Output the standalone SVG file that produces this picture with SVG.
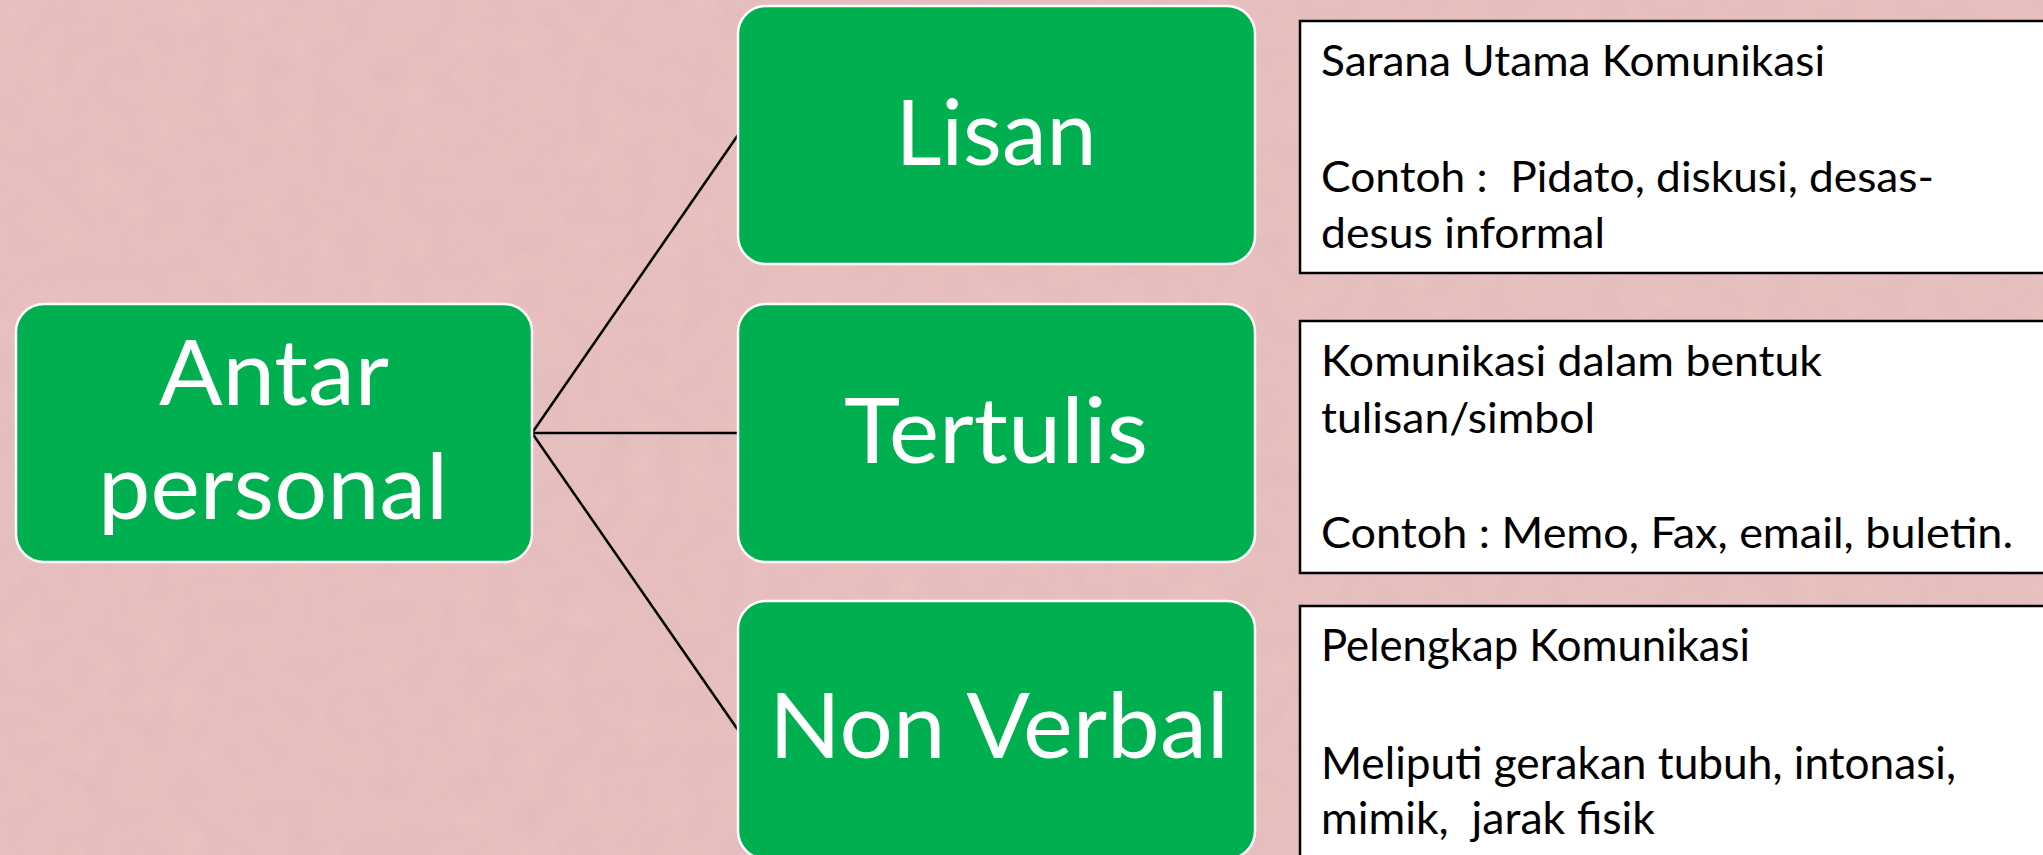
<svg xmlns="http://www.w3.org/2000/svg" width="2043" height="855" viewBox="0 0 2043 855">
<style>
.node rect{fill:#00b050;stroke:#ffffff;stroke-width:2.5}
.node text{fill:#ffffff;font-family:Lato,"Open Sans","Liberation Sans",sans-serif;font-size:92px;text-anchor:middle}
.note rect{fill:#ffffff;stroke:#000000;stroke-width:2.5}
.note text{fill:#000000;font-family:Lato,"Open Sans","Liberation Sans",sans-serif;font-size:43px;white-space:pre}
.note text.big{font-size:45px}
.conn line{stroke:#000000;stroke-width:2.5}
</style>
<defs>
<filter id="tex" x="0" y="0" width="100%" height="100%">
<feTurbulence type="fractalNoise" baseFrequency="0.035" numOctaves="3" seed="4" result="n"/>
<feColorMatrix in="n" type="matrix" values="0 0 0 0 0.55  0 0 0 0 0.35  0 0 0 0 0.36  0 0 0 0.35 -0.05"/>
</filter>
</defs>
<rect x="0" y="0" width="2043" height="855" fill="#e9c1c1"/>
<rect x="0" y="0" width="2043" height="855" filter="url(#tex)" opacity="0.6"/>
<g id="connectors" class="conn">
<line x1="532" y1="433" x2="738" y2="135"/>
<line x1="532" y1="433" x2="738" y2="433"/>
<line x1="532" y1="433" x2="738" y2="730"/>
</g>
<g id="node-antarpersonal" class="node">
<rect x="16" y="304" width="516" height="258" rx="28"/>
<text x="274" y="405" textLength="230" lengthAdjust="spacingAndGlyphs">Antar</text>
<text x="273" y="519" textLength="350" lengthAdjust="spacingAndGlyphs">personal</text>
</g>
<g id="node-lisan" class="node">
<rect x="738" y="6" width="517" height="258" rx="28"/>
<text x="996" y="165" textLength="201" lengthAdjust="spacingAndGlyphs">Lisan</text>
</g>
<g id="node-tertulis" class="node">
<rect x="738" y="304" width="517" height="258" rx="28"/>
<text x="996" y="463" textLength="304" lengthAdjust="spacingAndGlyphs">Tertulis</text>
</g>
<g id="node-nonverbal" class="node">
<rect x="738" y="601" width="517" height="258" rx="28"/>
<text x="999" y="758" textLength="460" lengthAdjust="spacingAndGlyphs">Non Verbal</text>
</g>
<g id="note-lisan" class="note">
<rect x="1300" y="21" width="760" height="252"/>
<text x="1321" y="76" textLength="504" lengthAdjust="spacingAndGlyphs">Sarana Utama Komunikasi</text>
<text x="1321" y="192" textLength="613" lengthAdjust="spacingAndGlyphs">Contoh :  Pidato, diskusi, desas-</text>
<text x="1321" y="248" textLength="284" lengthAdjust="spacingAndGlyphs">desus informal</text>
</g>
<g id="note-tertulis" class="note">
<rect x="1300" y="321" width="760" height="252"/>
<text x="1321" y="376" textLength="501" lengthAdjust="spacingAndGlyphs">Komunikasi dalam bentuk</text>
<text x="1321" y="433" textLength="274" lengthAdjust="spacingAndGlyphs">tulisan/simbol</text>
<text x="1321" y="548" textLength="692" lengthAdjust="spacingAndGlyphs">Contoh : Memo, Fax, email, buletin.</text>
</g>
<g id="note-nonverbal" class="note">
<rect x="1300" y="606" width="760" height="270"/>
<text class="big" x="1321" y="661" textLength="429" lengthAdjust="spacingAndGlyphs">Pelengkap Komunikasi</text>
<text class="big" x="1321" y="779" textLength="635" lengthAdjust="spacingAndGlyphs">Meliputi gerakan tubuh, intonasi,</text>
<text class="big" x="1321" y="834" textLength="334" lengthAdjust="spacingAndGlyphs">mimik,  jarak fisik</text>
</g>
</svg>
